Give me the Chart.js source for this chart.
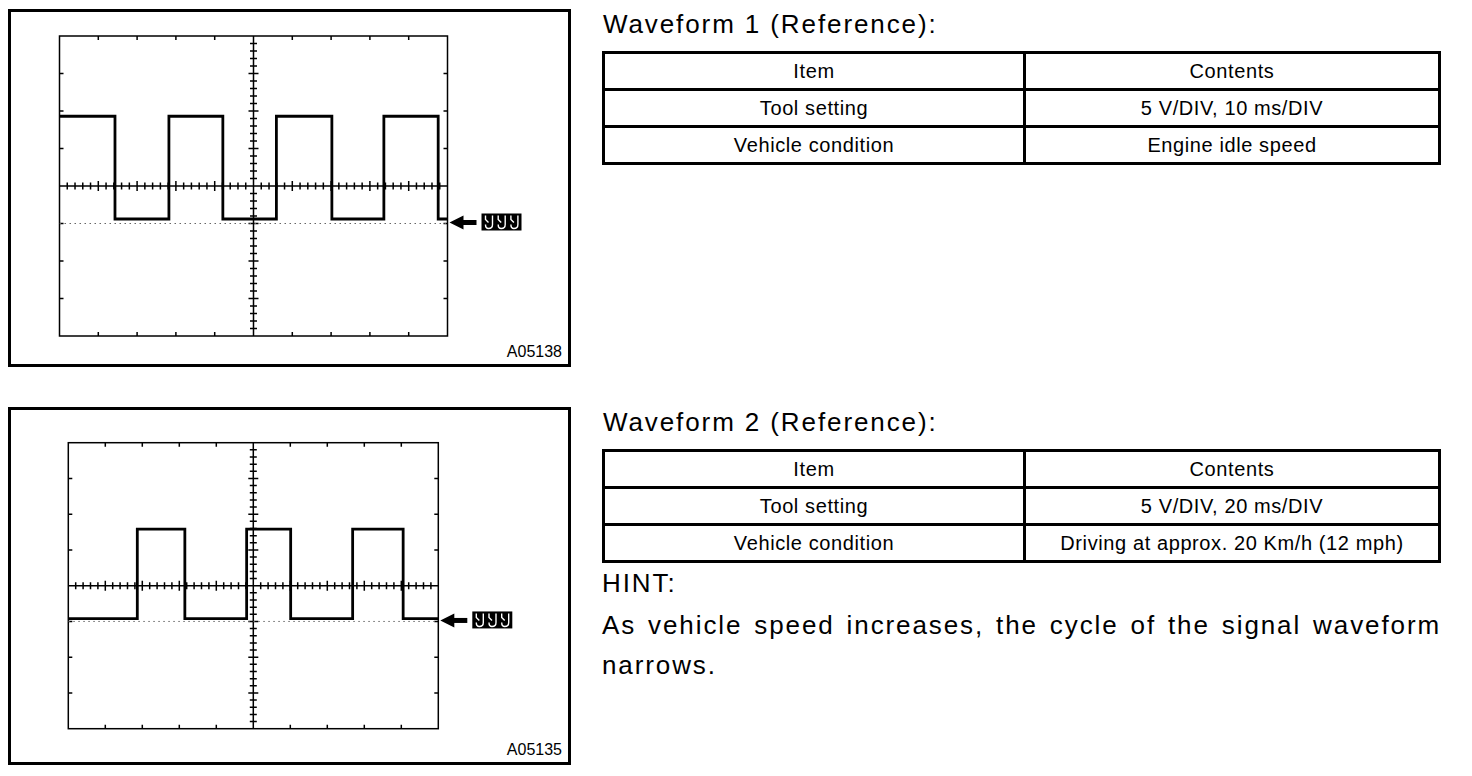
<!DOCTYPE html>
<html>
<head>
<meta charset="utf-8">
<title>Waveform Reference</title>
<script src="https://cdn.jsdelivr.net/npm/chart.js"></script>
<style>
  body { margin: 0; background: #fff; color: #000; font-family: "Liberation Sans", Arial, sans-serif; }
  .page { position: relative; width: 1472px; height: 776px; overflow: hidden; }
  .panel { position: absolute; left: 8px; width: 557px; height: 352px; border: 3px solid #000; }
  .code { position: absolute; right: 6px; bottom: 4px; font-size: 16px; line-height: 16px; }
  canvas { position: absolute; left: 0; }
  .title { position: absolute; left: 603px; font-size: 26px; line-height: 26px; letter-spacing: 1.9px; white-space: nowrap; }
  table { position: absolute; left: 602px; width: 839px; border-collapse: collapse; table-layout: fixed; }
  td { border: 3px solid #000; height: 34px; padding: 0; text-align: center; font-size: 20px; letter-spacing: 0.6px; white-space: nowrap; }
  td:first-child { width: 418px; }
  .para { position: absolute; left: 602px; width: 839px; font-size: 26px; line-height: 40px; letter-spacing: 1.9px; }
  .just { text-align: justify; text-align-last: justify; }
</style>
</head>
<body>
<div class="page">

  <!-- scope picture 1 -->
  <div class="panel" style="top:9px;"><div class="code">A05138</div></div>
  <canvas id="scope1" width="580" height="380" style="top:0;"></canvas>

  <!-- scope picture 2 -->
  <div class="panel" style="top:407px;"><div class="code">A05135</div></div>
  <canvas id="scope2" width="580" height="375" style="top:400px;"></canvas>

  <div class="title" style="top:11px;">Waveform 1 (Reference):</div>
  <table style="top:51px;">
    <tr><td>Item</td><td>Contents</td></tr>
    <tr><td>Tool setting</td><td>5 V/DIV, 10 ms/DIV</td></tr>
    <tr><td>Vehicle condition</td><td>Engine idle speed</td></tr>
  </table>

  <div class="title" style="top:409px;">Waveform 2 (Reference):</div>
  <table style="top:449px;">
    <tr><td>Item</td><td>Contents</td></tr>
    <tr><td>Tool setting</td><td>5 V/DIV, 20 ms/DIV</td></tr>
    <tr><td>Vehicle condition</td><td>Driving at approx. 20 Km/h (12 mph)</td></tr>
  </table>

  <div class="para" style="top:563px;">HINT:</div>
  <div class="para just" style="top:605px;">As vehicle speed increases, the cycle of the signal waveform</div>
  <div class="para" style="top:645px;">narrows.</div>
</div>

<script>
// waveform 1: 10 ms/DIV, 5 V/DIV (edge times in ms, level in V)
const wave1Edges = [0, 14.3, 28.2, 42.1, 55.9, 70.2, 83.6, 97.6, 100];
const wave1Levels = [14.3, 0.6, 14.3, 0.6, 14.3, 0.6, 14.3, 0.6];

// waveform 2: 20 ms/DIV, 5 V/DIV
const wave2Edges = [0, 37.3, 63, 96.4, 120.2, 153.7, 181, 200];
const wave2Levels = [0.4, 12.9, 0.4, 12.9, 0.4, 12.9, 0.4];

// screen is 10 x 8 divisions, ground sits one division below centre
const voltMin = -15;
const voltMax = 25;

function stepPoints(edges, levels) {
  const pts = levels.map((v, i) => ({ x: edges[i], y: v }));
  pts.push({ x: edges[edges.length - 1], y: levels[levels.length - 1] });
  return pts;
}

// draws the scope graticule: frame, centre cross and tick marks
const graticule = {
  id: 'graticule',
  beforeDatasetsDraw(chart) {
    const { ctx, chartArea: a, scales: { x, y } } = chart;
    const xs = (x.max - x.min) / 10, ys = (y.max - y.min) / 8;
    const cx = x.getPixelForValue(x.min + 5 * xs);
    const cy = y.getPixelForValue(y.min + 4 * ys);
    ctx.save();
    ctx.strokeStyle = '#000';
    ctx.lineWidth = 1.5;
    ctx.strokeRect(a.left, a.top, a.right - a.left, a.bottom - a.top);
    ctx.beginPath();
    ctx.moveTo(a.left, cy); ctx.lineTo(a.right, cy);
    ctx.moveTo(cx, a.top); ctx.lineTo(cx, a.bottom);
    for (let i = 1; i < 50; i++) {
      const px = x.getPixelForValue(x.min + i * xs / 5);
      const len = i % 5 === 0 ? 5 : 3.5;
      ctx.moveTo(px, cy - len); ctx.lineTo(px, cy + len);
    }
    for (let j = 1; j < 40; j++) {
      const py = y.getPixelForValue(y.min + j * ys / 5);
      const len = j % 5 === 0 ? 5 : 3.5;
      ctx.moveTo(cx - len, py); ctx.lineTo(cx + len, py);
    }
    for (let i = 1; i < 10; i++) {
      const px = x.getPixelForValue(x.min + i * xs);
      ctx.moveTo(px, a.top); ctx.lineTo(px, a.top + 4);
      ctx.moveTo(px, a.bottom); ctx.lineTo(px, a.bottom - 4);
    }
    for (let j = 1; j < 8; j++) {
      const py = y.getPixelForValue(y.min + j * ys);
      ctx.moveTo(a.left, py); ctx.lineTo(a.left + 4, py);
      ctx.moveTo(a.right, py); ctx.lineTo(a.right - 4, py);
    }
    ctx.stroke();
    ctx.restore();
  },
  afterDraw(chart) {
    // ground marker: arrow plus ground symbol box
    const { ctx, chartArea: a, scales: { y } } = chart;
    const y0 = y.getPixelForValue(0) - 1;
    const tip = a.right + 2;
    ctx.save();
    ctx.fillStyle = '#000';
    ctx.beginPath();
    ctx.moveTo(tip, y0);
    ctx.lineTo(tip + 14, y0 - 7);
    ctx.lineTo(tip + 14, y0 + 7);
    ctx.closePath();
    ctx.fill();
    ctx.fillRect(tip + 13, y0 - 2.5, 14, 5);
    const bx = tip + 32, by = y0 - 9;
    ctx.fillRect(bx, by, 40, 17);
    ctx.strokeStyle = '#fff';
    ctx.lineWidth = 1.4;
    for (let k = 0; k < 3; k++) {
      const gx = bx + 2 + k * 12.7;
      ctx.beginPath();
      ctx.moveTo(gx + 2, by + 2);
      ctx.lineTo(gx + 2, by + 6);
      ctx.lineTo(gx + 5, by + 9);
      ctx.moveTo(gx + 9, by + 2);
      ctx.lineTo(gx + 9, by + 11);
      ctx.quadraticCurveTo(gx + 9, by + 15, gx + 5, by + 15);
      ctx.quadraticCurveTo(gx + 2, by + 15, gx + 2, by + 11);
      ctx.stroke();
    }
    ctx.restore();
  }
};

function makeScope(id, edges, levels, padding) {
  const tEnd = edges[edges.length - 1];
  new Chart(document.getElementById(id), {
    type: 'line',
    data: {
      datasets: [{
        data: stepPoints(edges, levels),
        stepped: true,
        borderColor: '#000',
        borderWidth: 2.8,
        pointRadius: 0
      }, {
        data: [{ x: 0, y: 0 }, { x: tEnd, y: 0 }],
        borderColor: '#666',
        borderWidth: 1,
        borderDash: [1.5, 3.5],
        pointRadius: 0
      }]
    },
    options: {
      responsive: false,
      animation: false,
      layout: { padding: padding },
      plugins: { legend: { display: false }, tooltip: { enabled: false } },
      scales: {
        x: { type: 'linear', min: 0, max: tEnd, display: false },
        y: { min: voltMin, max: voltMax, display: false }
      }
    },
    plugins: [graticule]
  });
}

makeScope('scope1', wave1Edges, wave1Levels, { left: 59.5, top: 36, right: 132.5, bottom: 44 });
makeScope('scope2', wave2Edges, wave2Levels, { left: 68.3, top: 42.7, right: 141.7, bottom: 46.3 });
</script>
</body>
</html>
